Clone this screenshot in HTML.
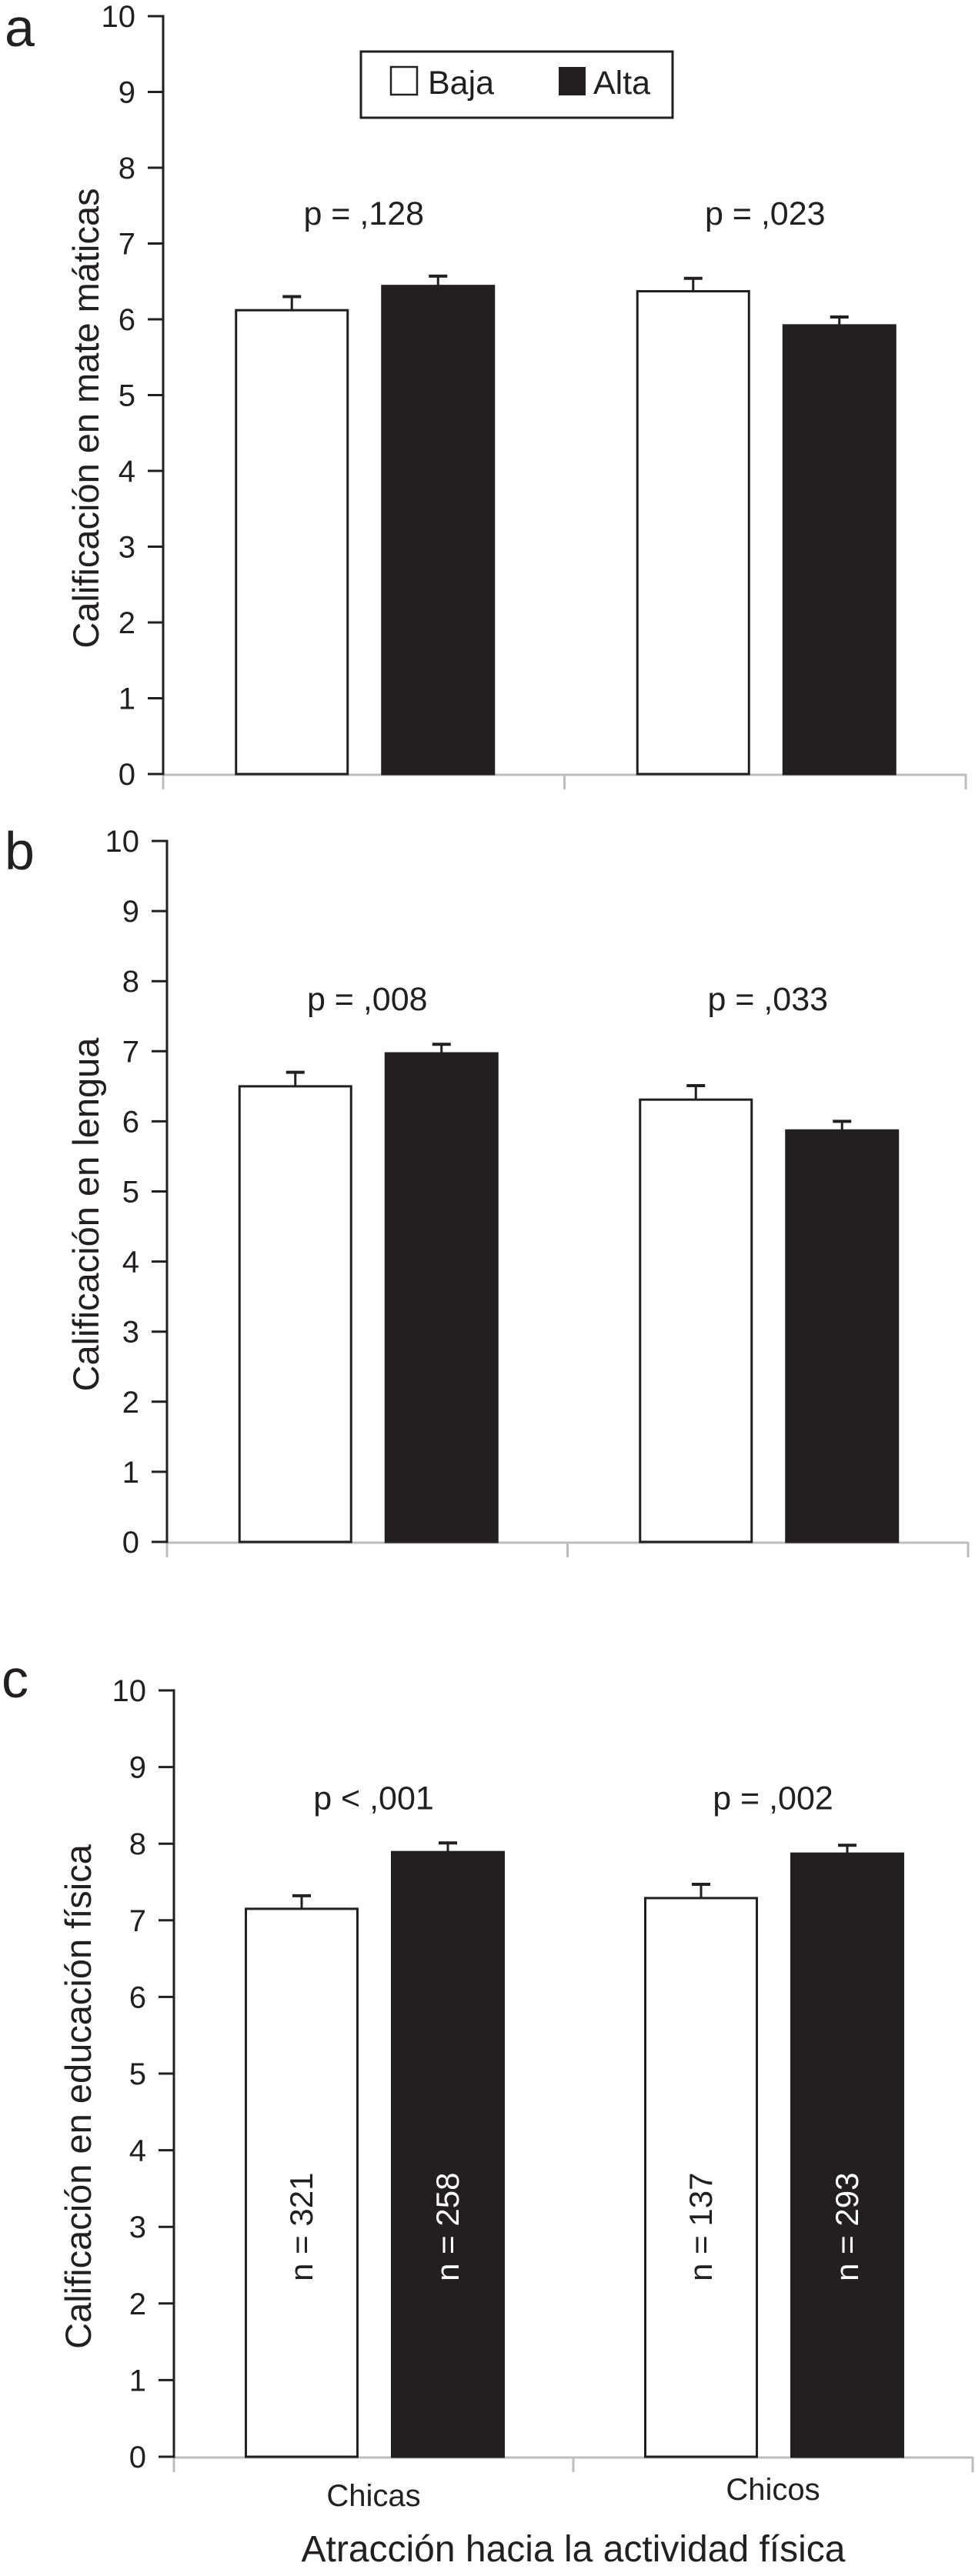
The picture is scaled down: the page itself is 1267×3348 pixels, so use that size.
<!DOCTYPE html>
<html><head><meta charset="utf-8">
<style>
html,body{margin:0;padding:0;background:#fff;}
svg{display:block;font-family:"Liberation Sans",Arial,sans-serif;}
</style></head>
<body>
<svg id="chart" width="1267" height="3348" viewBox="0 0 1267 3348" xmlns="http://www.w3.org/2000/svg"></svg>
<script>
// ---- data ----
const categories = ["Chicas", "Chicos"];
const seriesNames = ["Baja", "Alta"];
const yTicks = [0,1,2,3,4,5,6,7,8,9,10];
const mathBaja = [6.12, 6.37];
const mathAlta = [6.44, 5.92];
const mathBajaErr = [0.18, 0.17];
const mathAltaErr = [0.13, 0.11];
const mathP = ["p = ,128", "p = ,023"];
const langBaja = [6.50, 6.31];
const langAlta = [6.97, 5.87];
const langBajaErr = [0.20, 0.20];
const langAltaErr = [0.13, 0.13];
const langP = ["p = ,008", "p = ,033"];
const peBaja = [7.15, 7.29];
const peAlta = [7.89, 7.87];
const peBajaErr = [0.17, 0.18];
const peAltaErr = [0.12, 0.11];
const peP = ["p < ,001", "p = ,002"];
const nBaja = ["n = 321", "n = 137"];
const nAlta = ["n = 258", "n = 293"];

const NS = "http://www.w3.org/2000/svg";
const svg = document.getElementById("chart");
const INK = "#231f20";
function mk(tag, attrs, parent){
  const e = document.createElementNS(NS, tag);
  for (const k in attrs) e.setAttribute(k, attrs[k]);
  (parent||svg).appendChild(e);
  return e;
}

const panels = [
  {letter:"a", title:"Calificación en mate máticas", x0:212, x1:1255, yTop:21, yBot:1006, titleX:112,
   baja:mathBaja, alta:mathAlta, be:mathBajaErr, ae:mathAltaErr, p:mathP, pVal:7.4, legend:true, n:false, xlabels:false},
  {letter:"b", title:"Calificación en lengua", x0:217, x1:1258, yTop:1093, yBot:2004, titleX:112,
   baja:langBaja, alta:langAlta, be:langBajaErr, ae:langAltaErr, p:langP, pVal:7.75, legend:false, n:false, xlabels:false},
  {letter:"c", title:"Calificación en educación física", x0:226, x1:1264, yTop:2197, yBot:3193, titleX:102,
   baja:peBaja, alta:peAlta, be:peBajaErr, ae:peAltaErr, p:peP, pVal:8.6, legend:false, n:true, xlabels:true}
];
const letterPos = [[6,60],[6,1130],[2,2206]];

panels.forEach((P, pi) => {
  const g = mk("g", {});
  
  
  const y = v => P.yBot - (v/10)*(P.yBot - P.yTop);
  const band = (P.x1 - P.x0)/2;
  const cx = i => P.x0 + (i+0.5)*band;

  const lt = mk("text", {x:letterPos[pi][0], y:letterPos[pi][1], "font-size":70, fill:INK}, g);
  lt.textContent = P.letter;
  
  

  const xa = mk("line", {x1:P.x0, y1:P.yBot+1, x2:P.x1, y2:P.yBot+1, stroke:"#bdbdbd", "stroke-width":3}, g);
  
  
  [0,1,2].forEach(k => {
    const tx = P.x0 + k*band;
    const t = mk("line", {x1:tx, y1:P.yBot, x2:tx, y2:P.yBot+20, stroke:"#bdbdbd", "stroke-width":3}, g);
    
    
  });
  const ya = mk("line", {x1:P.x0, y1:P.yTop-1.5, x2:P.x0, y2:P.yBot+1.5, stroke:INK, "stroke-width":3}, g);
  
  
  yTicks.forEach(v => {
    const t = mk("line", {x1:P.x0-20, y1:y(v), x2:P.x0, y2:y(v), stroke:INK, "stroke-width":3}, g);
    
    
    const tl = mk("text", {x:P.x0-36, y:y(v)+14, "font-size":40, "text-anchor":"end", fill:INK}, g);
    tl.textContent = v;
    
    
  });
  const ymid = (P.yTop + P.yBot)/2 + 30;
  const tt = mk("text", {x:0, y:0, "font-size":47, "text-anchor":"middle", fill:INK,
    transform:"translate(" + (P.titleX+16) + "," + ymid + ") rotate(-90)"}, g);
  tt.textContent = P.title;
  
  

  categories.forEach((cat, i) => {
    const c = cx(i);
    const bw = 145;
    const specs = [
      {v:P.baja[i], e:P.be[i], left:c-166, fill:"#fff", name:"bar-baja-" + cat.toLowerCase(), n:nBaja[i], tc:INK},
      {v:P.alta[i], e:P.ae[i], left:c+24, fill:INK, name:"bar-alta-" + cat.toLowerCase(), n:nAlta[i], tc:"#fff"}
    ];
    specs.forEach(s => {
      const mid = s.left + bw/2;
      const el = mk("line", {x1:mid, y1:y(s.v), x2:mid, y2:y(s.v+s.e), stroke:INK, "stroke-width":3}, g);
      
      
      const cap = mk("line", {x1:mid-12, y1:y(s.v+s.e), x2:mid+12, y2:y(s.v+s.e), stroke:INK, "stroke-width":4}, g);
      
      
      const r = mk("rect", {x:s.left, y:y(s.v), width:bw, height:P.yBot - y(s.v),
        fill:s.fill, stroke:INK, "stroke-width":3}, g);
      
      
      if (P.n) {
        const ny = y(3.0);
        const nt = mk("text", {x:0, y:0, "font-size":42, "text-anchor":"middle", fill:s.tc,
          transform:"translate(" + (mid+14) + "," + ny + ") rotate(-90)"}, g);
        nt.textContent = s.n;
        
        
      }
    });
    const pt = mk("text", {x:c, y:y(P.pVal)+15, "font-size":43, "text-anchor":"middle", fill:INK}, g);
    pt.textContent = P.p[i];
    
    
    if (P.xlabels) {
      const xl = mk("text", {x:c, y:P.yBot + (i===0?64:56), "font-size":40, "text-anchor":"middle", fill:INK}, g);
      xl.textContent = cat;
      
      
    }
  });

  if (P.xlabels) {
    const xt = mk("text", {x:(P.x0+P.x1)/2, y:P.yBot+136, "font-size":48, "text-anchor":"middle", fill:INK}, g);
    xt.textContent = "Atracción hacia la actividad física";
    
    
  }

  if (P.legend) {
    const lg = mk("g", {}, g);
    
    
    mk("rect", {x:469, y:67, width:405, height:86, fill:"#fff", stroke:INK, "stroke-width":3}, lg);
    const e1 = mk("rect", {x:508, y:87, width:34, height:36, fill:"#fff", stroke:INK, "stroke-width":2.5}, lg);
    
    
    const t1 = mk("text", {x:556, y:122, "font-size":43, fill:INK}, lg);
    t1.textContent = seriesNames[0];
    
    
    const e2 = mk("rect", {x:726, y:87, width:35, height:37, fill:INK}, lg);
    
    
    const t2 = mk("text", {x:771, y:122, "font-size":43, fill:INK}, lg);
    t2.textContent = seriesNames[1];
    
    
  }
});
</script>
</body></html>
